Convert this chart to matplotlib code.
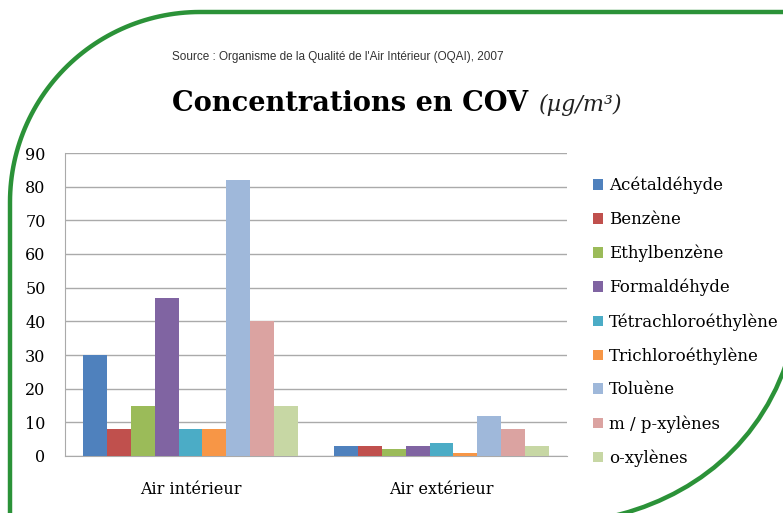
import numpy as np
import matplotlib.pyplot as plt
from matplotlib.path import Path
from matplotlib.patches import PathPatch

# -----------------------------------------------------------------------------
# Data
# -----------------------------------------------------------------------------
categories = ["Air intérieur", "Air extérieur"]
compounds = ["Acétaldéhyde", "Benzène", "Ethylbenzène", "Formaldéhyde",
             "Tétrachloroéthylène", "Trichloroéthylène", "Toluène",
             "m / p-xylènes", "o-xylènes"]
interieur = [30, 8, 15, 47, 8, 8, 82, 40, 15]
exterieur = [3, 3, 2, 3, 4, 1, 12, 8, 3]
colors = ["#4F81BD", "#C0504D", "#9BBB59", "#8064A2", "#4BACC6",
          "#F79646", "#9FB8DA", "#DBA3A1", "#C7D7A4"]
yticks = [0, 10, 20, 30, 40, 50, 60, 70, 80, 90]

serif = ["DejaVu Serif"]
green = "#2B9238"

fig = plt.figure(figsize=(7.83, 5.13), dpi=100)

# -----------------------------------------------------------------------------
# Green frame (pixel coords on a background axes)
# -----------------------------------------------------------------------------
bg = fig.add_axes([0, 0, 1, 1])
bg.set_xlim(0, 783)
bg.set_ylim(513, 0)
bg.axis("off")

r = 190
cx, cy = 10 + r, 12 + r
t = np.linspace(np.pi, 1.5 * np.pi, 60)
arc_x = cx + r * np.cos(t)
arc_y = cy + r * np.sin(t)
bg.plot(np.r_[10, arc_x, 800], np.r_[530, arc_y, 12], color=green, lw=3.2,
        solid_capstyle="butt")

verts = [(605, 518), (690, 500), (765, 445), (792, 345)]
codes = [Path.MOVETO, Path.CURVE4, Path.CURVE4, Path.CURVE4]
bg.add_patch(PathPatch(Path(verts, codes), fill=False, edgecolor=green, lw=3.2))

# -----------------------------------------------------------------------------
# Titles
# -----------------------------------------------------------------------------
fig.text(172 / 783, 1 - 57 / 513, "Source : Organisme de la Qualité de l'Air Intérieur (OQAI), 2007",
         fontsize=8.5, family="Liberation Sans", color="#333333", va="center", ha="left")
fig.text(172 / 783, 1 - 111 / 513, "Concentrations en COV", fontsize=19.6, fontweight="bold",
         family=serif, va="baseline", ha="left")
fig.text(539 / 783, 1 - 111 / 513, "(µg/m³)", fontsize=16, style="italic",
         family=serif, va="baseline", ha="left", color="#222222")

# -----------------------------------------------------------------------------
# Bars
# -----------------------------------------------------------------------------
ax = fig.add_axes([65 / 783, 1 - 456 / 513, (567 - 65) / 783, (456 - 153) / 513])
x = np.arange(len(categories))
n = len(compounds)
w = 0.857 / n
for i, name in enumerate(compounds):
    vals = [interieur[i], exterieur[i]]
    ax.bar(x - 0.857 / 2 + w * (i + 0.5), vals, width=w, color=colors[i],
           label=name, zorder=3)

ax.set_xlim(-0.5, 1.5)
ax.set_ylim(0, 90)
ax.set_yticks(yticks)
ax.set_xticks(x)
ax.set_xticklabels(categories, family=serif, fontsize=11.5)
for lbl in ax.get_yticklabels():
    lbl.set_family(serif)
    lbl.set_fontsize(11.5)
ax.tick_params(length=0, pad=14)
ax.tick_params(axis="x", pad=18)
ax.yaxis.grid(True, color="#AAAAAA", lw=1)
for s in ["top", "right"]:
    ax.spines[s].set_visible(False)
for s in ["left", "bottom"]:
    ax.spines[s].set_color("#AAAAAA")

leg = ax.legend(loc="upper left", bbox_to_anchor=(578 / 783, 1 - 162 / 513),
                bbox_transform=fig.transFigure, frameon=False,
                prop={"family": serif, "size": 12}, handlelength=0.6,
                handleheight=0.6, handletextpad=0.35, labelspacing=1.0)

fig.savefig("out.png", dpi=100)
